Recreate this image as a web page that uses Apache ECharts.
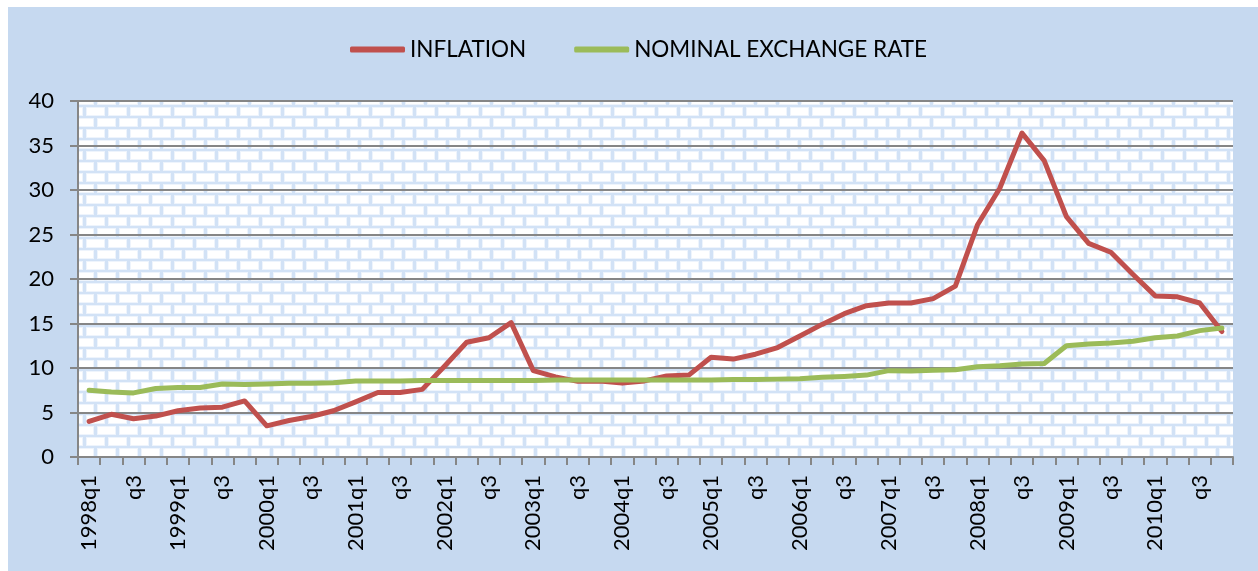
<!DOCTYPE html>
<html>
<head>
<meta charset="utf-8">
<script src="https://cdn.jsdelivr.net/npm/echarts@6/dist/echarts.min.js"></script>
<style>
    html, body { margin: 0; padding: 0; background: #ffffff; }
    #main { position: absolute; left: 8px; top: 7px; width: 1250px; height: 564px; }
</style>
</head>
<body>
<div id="main"></div>
<script>
const quarters = [
    '1998q1', 'q2', 'q3', 'q4', '1999q1', 'q2', 'q3', 'q4',
    '2000q1', 'q2', 'q3', 'q4', '2001q1', 'q2', 'q3', 'q4',
    '2002q1', 'q2', 'q3', 'q4', '2003q1', 'q2', 'q3', 'q4',
    '2004q1', 'q2', 'q3', 'q4', '2005q1', 'q2', 'q3', 'q4',
    '2006q1', 'q2', 'q3', 'q4', '2007q1', 'q2', 'q3', 'q4',
    '2008q1', 'q2', 'q3', 'q4', '2009q1', 'q2', 'q3', 'q4',
    '2010q1', 'q2', 'q3', 'q4'
];

const inflation = [
    4.0, 4.8, 4.3, 4.6, 5.2, 5.5, 5.6, 6.3,
    3.5, 4.1, 4.55, 5.2, 6.2, 7.25, 7.25, 7.6,
    10.2, 12.9, 13.4, 15.1, 9.7, 9.0, 8.5, 8.55,
    8.3, 8.55, 9.1, 9.2, 11.2, 11.0, 11.55, 12.3,
    13.6, 14.9, 16.1, 17.0, 17.3, 17.3, 17.8, 19.2,
    26.1, 30.2, 36.4, 33.3, 27.0, 24.0, 23.0, 20.5,
    18.1, 18.0, 17.3, 14.1
];

const exchangeRate = [
    7.5, 7.3, 7.2, 7.7, 7.8, 7.8, 8.2, 8.15,
    8.2, 8.3, 8.3, 8.35, 8.55, 8.55, 8.55, 8.6,
    8.6, 8.6, 8.6, 8.6, 8.6, 8.65, 8.65, 8.65,
    8.65, 8.65, 8.65, 8.65, 8.65, 8.7, 8.7, 8.75,
    8.8, 8.95, 9.05, 9.2, 9.7, 9.65, 9.75, 9.8,
    10.15, 10.25, 10.45, 10.5, 12.5, 12.7, 12.8, 13.0,
    13.4, 13.6, 14.2, 14.5
];

const seriesNames = ['INFLATION', 'NOMINAL EXCHANGE RATE'];

// brick texture for the plot area
function makeBricks() {
    const c = document.createElement('canvas');
    c.width = 22;
    c.height = 22;
    const ctx = c.getContext('2d');
    ctx.fillStyle = '#d2e2f6';
    ctx.fillRect(0, 0, 22, 22);
    function brick(x, y) {
        ctx.fillStyle = '#eef4fc';
        ctx.fillRect(x, y, 19, 9);
        ctx.fillStyle = '#ffffff';
        ctx.fillRect(x + 1, y + 1, 17, 7);
    }
    brick(1, 1);
    brick(12, 12);
    brick(-10, 12);
    return c;
}

const myChart = echarts.init(document.getElementById('main'));

const option = {
    backgroundColor: '#c6d9f0',
    animation: false,
    textStyle: { fontFamily: 'Lato' },
    legend: {
        data: seriesNames,
        left: 337,
        top: 26,
        icon: 'roundRect',
        itemWidth: 55,
        itemHeight: 6,
        itemGap: 48,
        textStyle: { fontSize: 22.5, color: '#000', fontFamily: 'Lato' }
    },
    grid: {
        show: true,
        left: 70,
        top: 94,
        right: 25,
        bottom: 114,
        borderWidth: 0,
        backgroundColor: { image: makeBricks(), repeat: 'repeat' }
    },
    xAxis: {
        type: 'category',
        data: quarters,
        boundaryGap: true,
        axisLine: { lineStyle: { color: '#868686', width: 2 } },
        axisTick: { show: true, interval: 0, length: 8, lineStyle: { color: '#868686', width: 2 } },
        axisLabel: {
            interval: 1,
            rotate: 90,
            margin: 18,
            fontSize: 22,
            color: '#000',
            fontFamily: 'Lato'
        },
        splitLine: { show: false }
    },
    yAxis: {
        type: 'value',
        min: 0,
        max: 40,
        interval: 5,
        axisLine: { show: true, lineStyle: { color: '#868686', width: 2 } },
        axisTick: { show: true, length: 8, lineStyle: { color: '#868686', width: 2 } },
        axisLabel: { fontSize: 22, color: '#000', margin: 24, fontFamily: 'Lato' },
        splitLine: { show: true, lineStyle: { color: '#868686', width: 2 } }
    },
    series: [
        {
            name: seriesNames[0],
            type: 'line',
            data: inflation,
            symbol: 'none',
            color: '#c0504d',
            lineStyle: { width: 5, color: '#c0504d', cap: 'round', join: 'round' }
        },
        {
            name: seriesNames[1],
            type: 'line',
            data: exchangeRate,
            symbol: 'none',
            color: '#9bbb59',
            lineStyle: { width: 5, color: '#9bbb59', cap: 'round', join: 'round' }
        }
    ]
};

myChart.setOption(option);
</script>
</body>
</html>
